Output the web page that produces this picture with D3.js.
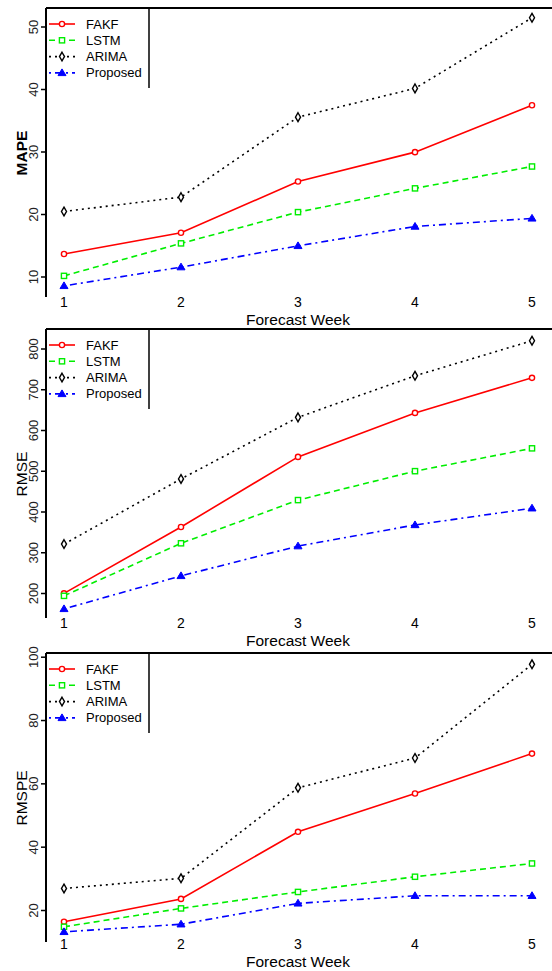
<!DOCTYPE html>
<html><head><meta charset="utf-8">
<script src="https://cdn.jsdelivr.net/npm/d3@7"></script>
<style>body{margin:0;background:#fff}svg{display:block}</style>
</head><body>
<svg id="c" width="552" height="971"></svg>
<script>
const weeks = [1, 2, 3, 4, 5];
const seriesNames = ["FAKF", "LSTM", "ARIMA", "Proposed"];

const mapeFAKF = [13.6, 17.0, 25.2, 29.9, 37.4];
const mapeLSTM = [10.1, 15.3, 20.3, 24.1, 27.6];
const mapeARIMA = [20.4, 22.7, 35.5, 40.1, 51.4];
const mapeProposed = [8.5, 11.5, 14.9, 18.0, 19.3];
const mapeTicks = [10, 20, 30, 40, 50];

const rmseFAKF = [199, 362, 534, 642, 728];
const rmseLSTM = [193, 322, 428, 499, 555];
const rmseARIMA = [320, 480, 631, 733, 819];
const rmseProposed = [161, 242, 315, 367, 408];
const rmseTicks = [200, 300, 400, 500, 600, 700, 800];

const rmspeFAKF = [16.3, 23.5, 44.7, 56.8, 69.4];
const rmspeLSTM = [14.7, 20.5, 25.7, 30.5, 34.7];
const rmspeARIMA = [26.8, 30.0, 58.6, 68.0, 97.6];
const rmspeProposed = [13.1, 15.5, 22.1, 24.5, 24.5];
const rmspeTicks = [20, 40, 60, 80, 100];

const styles = {
  FAKF: {color: "#ff0000", dash: null, marker: "circle"},
  LSTM: {color: "#00ee00", dash: "6,4", marker: "square"},
  ARIMA: {color: "#000000", dash: "2,4", marker: "diamond"},
  Proposed: {color: "#0000ff", dash: "2,4,7,4", marker: "triangle"}
};

const panels = [
  {top: 8, title: "MAPE", bold: true, ticks: mapeTicks, dom: [10, 50], rng: [268.5, 18.5], xl: 299, xt: 317,
   data: {FAKF: mapeFAKF, LSTM: mapeLSTM, ARIMA: mapeARIMA, Proposed: mapeProposed}},
  {top: 329, title: "RMSE", bold: false, ticks: rmseTicks, dom: [200, 800], rng: [264, 19.5], xl: 299, xt: 317,
   data: {FAKF: rmseFAKF, LSTM: rmseLSTM, ARIMA: rmseARIMA, Proposed: rmseProposed}},
  {top: 653, title: "RMSPE", bold: false, ticks: rmspeTicks, dom: [20, 100], rng: [257, 3.7], xl: 296, xt: 313.5,
   data: {FAKF: rmspeFAKF, LSTM: rmspeLSTM, ARIMA: rmspeARIMA, Proposed: rmspeProposed}}
];

const svg = d3.select("#c");
const font = "'Liberation Sans', Arial, sans-serif";
const x = d3.scaleLinear().domain([1, 5]).range([64, 532]);
const axisX = 46;

function drawMarker(g, type, cx, cy, color) {
  if (type === "circle") {
    g.append("circle").attr("cx", cx).attr("cy", cy).attr("r", 2.6)
      .attr("fill", "#fff").attr("stroke", color).attr("stroke-width", 1.4);
  } else if (type === "square") {
    g.append("rect").attr("x", cx - 2.6).attr("y", cy - 2.6).attr("width", 5.2).attr("height", 5.2)
      .attr("fill", "#fff").attr("stroke", color).attr("stroke-width", 1.4);
  } else if (type === "diamond") {
    g.append("path").attr("d", d3.symbol(d3.symbolDiamond, 22)())
      .attr("transform", `translate(${cx},${cy})`)
      .attr("fill", "#fff").attr("stroke", color).attr("stroke-width", 1.4);
  } else {
    g.append("path").attr("d", `M${cx},${cy - 4}L${cx + 4},${cy + 2.7}L${cx - 4},${cy + 2.7}Z`)
      .attr("fill", color).attr("stroke", color).attr("stroke-width", 1);
  }
}

panels.forEach(p => {
  const g = svg.append("g").attr("transform", `translate(0,${p.top})`);
  const y = d3.scaleLinear().domain(p.dom).range(p.rng);

  g.append("line").attr("x1", axisX).attr("x2", 552).attr("y1", 0).attr("y2", 0)
    .attr("stroke", "#000").attr("stroke-width", 2);
  g.append("line").attr("x1", axisX).attr("x2", axisX).attr("y1", 0).attr("y2", 289)
    .attr("stroke", "#000").attr("stroke-width", 2);

  const ya = g.append("g").attr("transform", `translate(${axisX},0)`)
    .call(d3.axisLeft(y).tickValues(p.ticks).tickSize(5).tickFormat(d3.format("d")));
  ya.select(".domain").remove();
  ya.selectAll(".tick line").attr("stroke-width", 1.5);
  ya.selectAll(".tick text")
    .attr("x", 0).attr("dy", "0.35em")
    .attr("transform", "translate(-13,0) rotate(-90)")
    .attr("text-anchor", "middle")
    .attr("font-family", font).attr("font-size", 13).attr("fill", "#222");

  g.append("text").attr("transform", `translate(22,145) rotate(-90)`)
    .attr("text-anchor", "middle").attr("dy", "0.35em")
    .attr("font-family", font).attr("font-size", 15.5)
    .attr("font-weight", p.bold ? "bold" : "normal").text(p.title);

  g.selectAll(".xl").data(weeks).enter().append("text")
    .attr("x", d => x(d)).attr("y", p.xl)
    .attr("text-anchor", "middle").attr("font-family", font).attr("font-size", 14)
    .text(d => d);
  g.append("text").attr("x", 298).attr("y", p.xt).attr("text-anchor", "middle")
    .attr("font-family", font).attr("font-size", 15.5).text("Forecast Week");

  seriesNames.forEach(name => {
    const st = styles[name];
    const vals = p.data[name];
    const pts = weeks.map((w, i) => [x(w), y(vals[i])]);
    g.append("path").attr("d", d3.line()(pts)).attr("fill", "none")
      .attr("stroke", st.color).attr("stroke-width", 1.6)
      .attr("stroke-dasharray", st.dash);
    pts.forEach(pt => drawMarker(g, st.marker, pt[0], pt[1], st.color));
  });

  const lg = g.append("g");
  lg.append("line").attr("x1", 149).attr("x2", 149).attr("y1", 0).attr("y2", 80)
    .attr("stroke", "#000").attr("stroke-width", 1.5);
  seriesNames.forEach((name, i) => {
    const st = styles[name];
    const ly = 16 + i * 16.3;
    lg.append("line").attr("x1", 49).attr("x2", 75).attr("y1", ly).attr("y2", ly)
      .attr("stroke", st.color).attr("stroke-width", 1.6).attr("stroke-dasharray", st.dash);
    drawMarker(lg, st.marker, 62, ly, st.color);
    lg.append("text").attr("x", 86).attr("y", ly).attr("dy", "0.35em")
      .attr("font-family", font).attr("font-size", 13).text(name);
  });
});
</script>
</body></html>
